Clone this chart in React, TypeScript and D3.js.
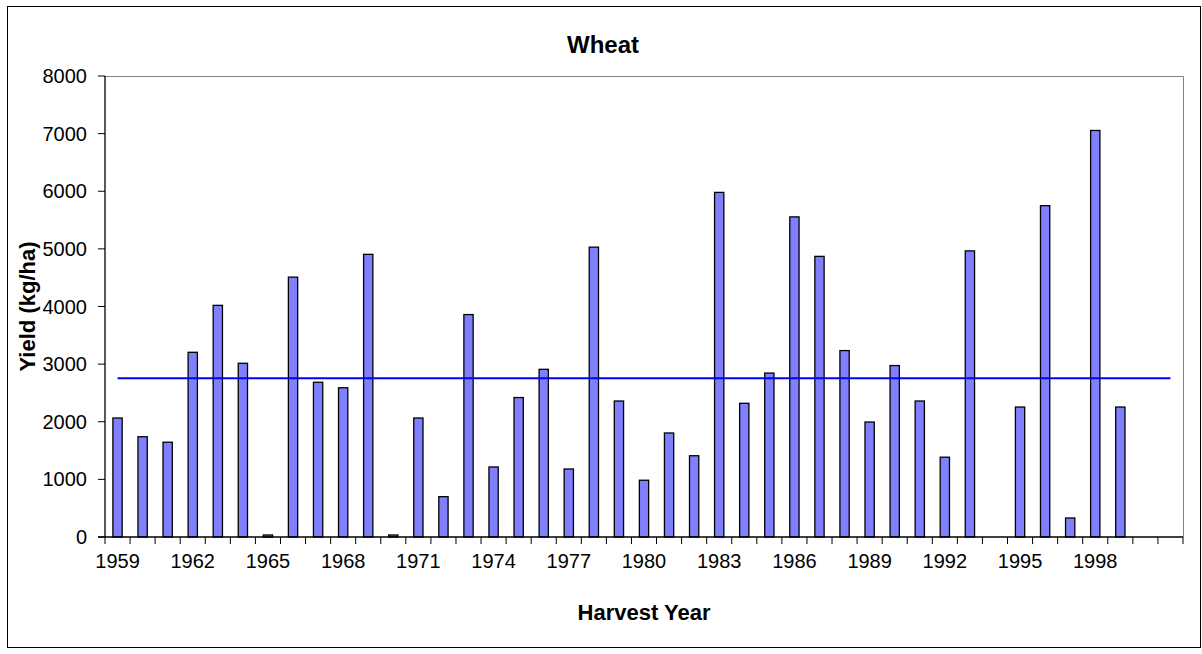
import React from 'react';
import * as d3 from 'd3';

// --- Data ---
const years = [
  '1959', '1960', '1961', '1962', '1963', '1964', '1965', '1966', '1967', '1968',
  '1969', '1970', '1971', '1972', '1973', '1974', '1975', '1976', '1977', '1978',
  '1979', '1980', '1981', '1982', '1983', '1984', '1985', '1986', '1987', '1988',
  '1989', '1990', '1991', '1992', '1993', '1994', '1995', '1996', '1997', '1998',
  '1999', '2000', '2001',
];

const yields: (number | null)[] = [
  2065, 1740, 1645, 3205, 4020, 3015, 35, 4510, 2685, 2590,
  4905, 35, 2065, 700, 3860, 1215, 2420, 2910, 1180, 5030,
  2360, 985, 1805, 1410, 5980, 2320, 2845, 5555, 4870, 3235,
  1995, 2975, 2360, 1385, 4965, null, 2255, 5750, 330, 7055,
  2255, null, null,
];

const meanYield = 2755;

const yTicks = [0, 1000, 2000, 3000, 4000, 5000, 6000, 7000, 8000];
const xLabels = ['1959', '1962', '1965', '1968', '1971', '1974', '1977', '1980', '1983', '1986', '1989', '1992', '1995', '1998'];

const W = 1202;
const H = 654;
const plot = { left: 105, top: 76, right: 1183, bottom: 537 };
const font = '"Liberation Sans", Arial, sans-serif';

export default function App() {
  const x = d3.scaleBand<string>().domain(years).range([plot.left, plot.right]).padding(0);
  const y = d3.scaleLinear().domain([0, 8000]).range([plot.bottom, plot.top]);
  const step = x.step();
  const barW = step * 0.37;
  const cx = (d: string) => (x(d) as number) + step / 2;

  const meanLine = d3.line<string>()
    .x(d => cx(d))
    .y(() => y(meanYield));

  return (
    <svg width={W} height={H} style={{ position: 'absolute', left: 0, top: 0, background: '#fff' }}
      fontFamily={font}>
      {/* chart frame */}
      <rect x={7.5} y={6.5} width={1193} height={641} fill="#fff" stroke="#000" strokeWidth={1} />

      {/* plot area border (top/right gray) */}
      <path d={`M${plot.left},${plot.top + 0.5}H${plot.right + 0.5}V${plot.bottom}`} fill="none" stroke="#808080" strokeWidth={1} />

      {/* bars */}
      {years.map((yr, i) => {
        const v = yields[i];
        if (v == null) return null;
        return (
          <rect key={yr} x={cx(yr) - barW / 2} y={y(v)} width={barW} height={y(0) - y(v)}
            fill="#8080FF" stroke="#000" strokeWidth={1.3} />
        );
      })}

      {/* mean line */}
      <path d={meanLine(years) ?? ''} fill="none" stroke="#0000FF" strokeWidth={2} />

      {/* y axis */}
      <line x1={plot.left} x2={plot.left} y1={plot.top} y2={plot.bottom} stroke="#000" strokeWidth={1.3} />
      {yTicks.map(t => (
        <g key={t}>
          <line x1={plot.left - 7} x2={plot.left} y1={y(t)} y2={y(t)} stroke="#000" strokeWidth={1} />
          <text x={plot.left - 18} y={y(t)} dy="0.35em" textAnchor="end" fontSize={20} fill="#000">{t}</text>
        </g>
      ))}

      {/* x axis */}
      <line x1={plot.left - 7} x2={plot.right} y1={plot.bottom} y2={plot.bottom} stroke="#000" strokeWidth={1.3} />
      {years.concat(['end']).map((yr, i) => {
        const xx = plot.left + i * step;
        return <line key={'t' + i} x1={xx} x2={xx} y1={plot.bottom} y2={plot.bottom + 7} stroke="#000" strokeWidth={1} />;
      })}
      {xLabels.map(l => (
        <text key={l} x={cx(l)} y={561} dy="0.35em" textAnchor="middle" fontSize={20} fill="#000">{l}</text>
      ))}

      {/* titles */}
      <text x={603} y={45} dy="0.35em" textAnchor="middle" fontSize={24} fontWeight="bold">Wheat</text>
      <text x={(plot.left + plot.right) / 2} y={612} dy="0.35em" textAnchor="middle" fontSize={22} fontWeight="bold">Harvest Year</text>
      <text transform={`translate(27,${(plot.top + plot.bottom) / 2}) rotate(-90)`} dy="0.35em" textAnchor="middle" fontSize={22} fontWeight="bold">Yield (kg/ha)</text>
    </svg>
  );
}
